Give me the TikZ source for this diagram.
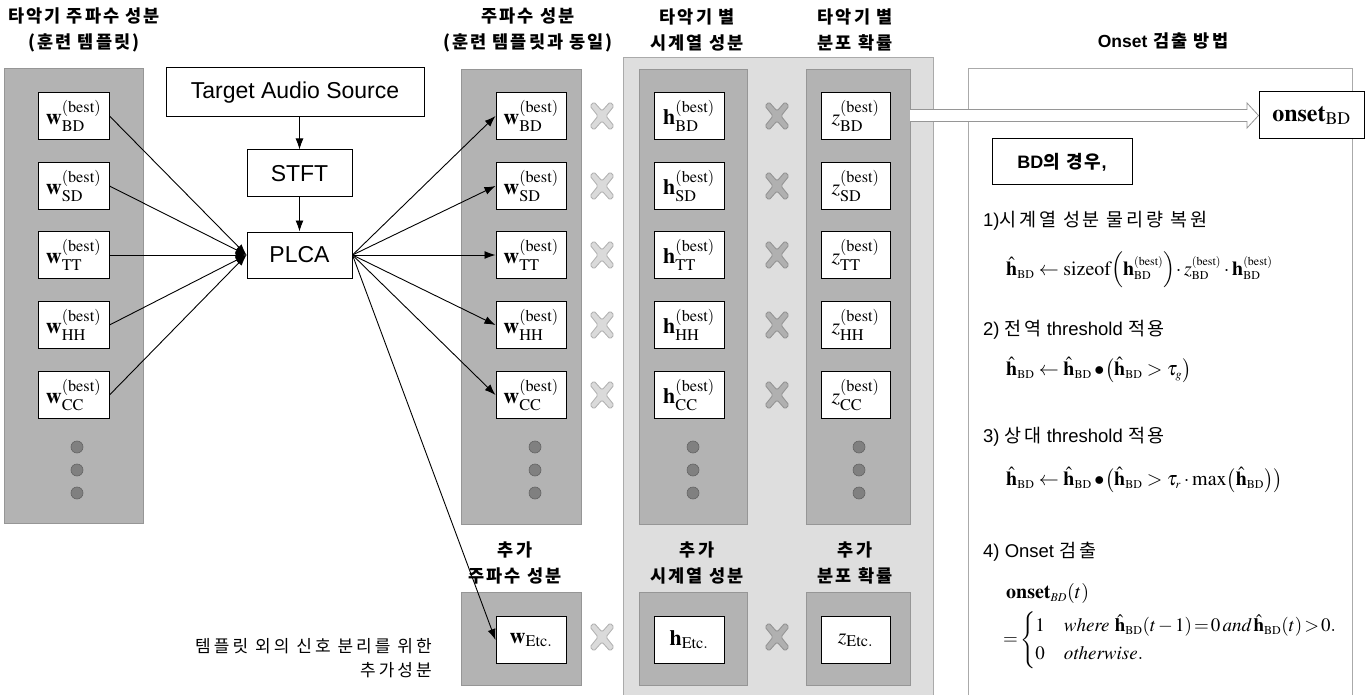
\documentclass[tikz,border=0pt]{standalone}
\usepackage{amsmath}
\usepackage{mathptmx}
\usepackage[no-math]{fontspec}
\setmainfont{Liberation Sans}
\newfontfamily\kr[LetterSpace=15]{Noto Sans CJK KR}
\newfontfamily\krb[LetterSpace=12]{Noto Sans CJK KR}
\newfontfamily\krn[LetterSpace=18]{Noto Sans CJK KR}
\usetikzlibrary{arrows.meta}
\DeclareMathSizes{20}{20}{12}{9}
\DeclareMathSizes{19}{19}{12}{9}
\definecolor{pdark}{RGB}{179,179,179}
\definecolor{pdarkb}{RGB}{150,150,150}
\definecolor{plight}{RGB}{222,222,222}
\definecolor{plightb}{RGB}{170,170,170}
\definecolor{xlf}{RGB}{218,218,218}
\definecolor{xlb}{RGB}{175,175,175}
\definecolor{xdf}{RGB}{176,176,176}
\definecolor{xdb}{RGB}{145,145,145}
\definecolor{dotf}{RGB}{128,128,128}
\definecolor{dotb}{RGB}{100,100,100}
\tikzset{
  panel/.style={fill=pdark, draw=pdarkb, line width=0.8pt},
  lpanel/.style={fill=plight, draw=plightb, line width=0.8pt},
  mbox/.style={draw, fill=white, line width=1pt, minimum width=70pt, minimum height=47pt, inner sep=0pt, font=\fontsize{22}{26}\selectfont},
  pbox/.style={draw, fill=white, line width=1pt, inner sep=0pt, font=\fontsize{23}{27}\selectfont},
  hdr/.style={align=center, font=\krb\bfseries\fontsize{17.5}{26}\selectfont, inner sep=0pt},
  ptxt/.style={anchor=west, inner sep=0pt, font=\fontsize{18.5}{22}\selectfont},
  fml/.style={anchor=west, inner sep=0pt, font=\fontsize{20}{24}\selectfont},
  conn/.style={line width=0.9pt, -{Latex[length=11pt,width=8pt]}},
  dotc/.style={circle, fill=dotf, draw=dotb, line width=0.6pt, minimum size=12pt, inner sep=0pt},
  xmark/.pic={\filldraw[pic actions, line width=0.8pt, rounded corners=1.5pt]
    (-12,-10)--(-8,-14)--(0,-5)--(8,-14)--(12,-10)--(4,0)--(12,10)--(8,14)--(0,5)--(-8,14)--(-12,10)--(-4,0)--cycle;}
}
\begin{document}
\begin{tikzpicture}[x=1pt,y=-1pt]
\useasboundingbox (0,0) rectangle (1370,695);
% background panels
\draw[lpanel] (623,57) rectangle (933,705);
\draw[fill=white, draw=plightb, line width=0.8pt] (968,68) rectangle (1352,705);
\draw[panel] (4,68) rectangle (143,523);
\draw[panel] (461,69) rectangle (581,524);
\draw[panel] (639,69) rectangle (747,524);
\draw[panel] (806,69) rectangle (910,524);
\draw[panel] (461,592) rectangle (581,685);
\draw[panel] (639,592) rectangle (747,685);
\draw[panel] (806,592) rectangle (910,685);
% headers
\node[hdr] (hd1) at (84,30) {타악기 주파수 성분\\(훈련 템플릿)};
\node[hdr] (hd2) at (528,30) {주파수 성분\\(훈련 템플릿과 동일)};
\node[hdr] (hd3) at (697,30) {타악기 별\\시계열 성분};
\node[hdr] (hd4) at (855,30) {타악기 별\\분포 확률};
\node[hdr] (hd5) at (1163,41) {{\rmfamily\bfseries Onset} 검출 방법};
\node[hdr] (hd6) at (515,563) {추가\\주파수 성분};
\node[hdr] (hd7) at (697,563) {추가\\시계열 성분};
\node[hdr] (hd8) at (855,563) {추가\\분포 확률};
\node[anchor=east, align=right, inner sep=0pt, font=\krn\fontsize{17}{24}\selectfont] (note) at (432,658) {템플릿 외의 신호 분리를 위한\\추가성분};
% processing boxes
\node[pbox, minimum width=258pt, minimum height=49pt] (tas) at (295,92.5) {Target Audio Source};
\node[pbox, minimum width=105pt, minimum height=47pt] (stft) at (299.5,173.5) {STFT};
\node[pbox, minimum width=105pt, minimum height=46pt] (plca) at (299.5,255) {PLCA};
% template boxes
\foreach \n/\y/\s in {1/116/BD,2/186/SD,3/255/TT,4/325/HH,5/395/CC}{
  \node[mbox, minimum width=71pt] (lw\n) at (73.5,\y) {$\mathbf{w}^{(\mathrm{best})}_{\mathrm{\s}}$};
  \node[mbox] (mw\n) at (531,\y) {$\mathbf{w}^{(\mathrm{best})}_{\mathrm{\s}}$};
  \node[mbox] (mh\n) at (689,\y) {$\mathbf{h}^{(\mathrm{best})}_{\mathrm{\s}}$};
  \node[mbox, minimum width=69pt] (mz\n) at (855.5,\y) {$z^{(\mathrm{best})}_{\mathrm{\s}}$};
  \pic[fill=xlf, draw=xlb] at (602,\y) {xmark};
  \pic[fill=xdf, draw=xdb] at (777,\y) {xmark};
}
\node[mbox] (mwe) at (531,640) {$\mathbf{w}_{\mathrm{Etc.}}$};
\node[mbox] (mhe) at (689,640) {$\mathbf{h}_{\mathrm{Etc.}}$};
\node[mbox, minimum width=69pt] (mze) at (855.5,640) {$z_{\mathrm{Etc.}}$};
\pic[fill=xlf, draw=xlb] at (602,637) {xmark};
\pic[fill=xdf, draw=xdb] at (777,637) {xmark};
% dots
\foreach \x/\c in {77/a,535/b,693/c,859/d}{
  \node[dotc] (d\c1) at (\x,447) {};
  \node[dotc] (d\c2) at (\x,470) {};
  \node[dotc] (d\c3) at (\x,493) {};
}
% connectors
\draw[conn] (stft.north |- tas.south) -- (stft.north);
\draw[conn] (stft.south) -- (plca.north);
\foreach \n in {1,...,5}{
  \draw[conn] (lw\n.east) -- (plca.west);
  \draw[conn] (plca.east) -- (mw\n.west);
}
\draw[conn] (plca.east) -- (mwe.west);
% onset part
\node[pbox, minimum width=105pt, minimum height=47pt, font=\fontsize{24}{28}\selectfont] (onset) at (1311.5,115.5) {$\mathbf{onset}_{\mathrm{BD}}$};
\coordinate (hs) at (910,115.5);
\draw[fill=white, draw=pdarkb, line width=0.8pt] (hs) ++(0,-6) -- (1247,109.5) -- (1247,103) -- (onset.west) -- (1247,128) -- (1247,121.5) -- (910,121.5);
\node[pbox, minimum width=140pt, minimum height=46pt, font=\bfseries\fontsize{18}{20}\selectfont] (bd) at (1062,162) {BD{\krb 의 경우},};
\node[ptxt] (t1) at (983,221) {1){\kr 시계열 성분 물리량 복원}};
\node[fml] (f1) at (1006,270) {$\hat{\mathbf{h}}_{\mathrm{BD}}\leftarrow\mathrm{sizeof}\!\left(\mathbf{h}^{(\mathrm{best})}_{\mathrm{BD}}\right)\!\cdot z^{(\mathrm{best})}_{\mathrm{BD}}\cdot\mathbf{h}^{(\mathrm{best})}_{\mathrm{BD}}$};
\node[ptxt] (t2) at (983,330) {2) {\kr 전역} threshold {\kr 적용}};
\node[fml] (f2) at (1006,370) {$\hat{\mathbf{h}}_{\mathrm{BD}}\leftarrow\hat{\mathbf{h}}_{\mathrm{BD}}\bullet\!\left(\hat{\mathbf{h}}_{\mathrm{BD}}>\tau_{g}\right)$};
\node[ptxt] (t3) at (983,437) {3) {\kr 상대} threshold {\kr 적용}};
\node[fml] (f3) at (1006,480) {$\hat{\mathbf{h}}_{\mathrm{BD}}\leftarrow\hat{\mathbf{h}}_{\mathrm{BD}}\bullet\!\left(\hat{\mathbf{h}}_{\mathrm{BD}}>\tau_{r}\cdot\max\!\left(\hat{\mathbf{h}}_{\mathrm{BD}}\right)\right)$};
\node[ptxt] (t4) at (983,552) {4) Onset {\kr 검출}};
\node[fml] (f4) at (1006,593) {$\mathbf{onset}_{BD}(t)$};
\node[fml, font=\fontsize{19}{23}\selectfont] (f5) at (1003,640) {$\thickmuskip=2mu\medmuskip=2mu=\begin{cases}1 & \mathit{where}\ \hat{\mathbf{h}}_{\mathrm{BD}}(t-1)=0\,\mathit{and}\,\hat{\mathbf{h}}_{\mathrm{BD}}(t)>0.\\ 0 & \mathit{otherwise}.\end{cases}$};
\end{tikzpicture}
\end{document}
